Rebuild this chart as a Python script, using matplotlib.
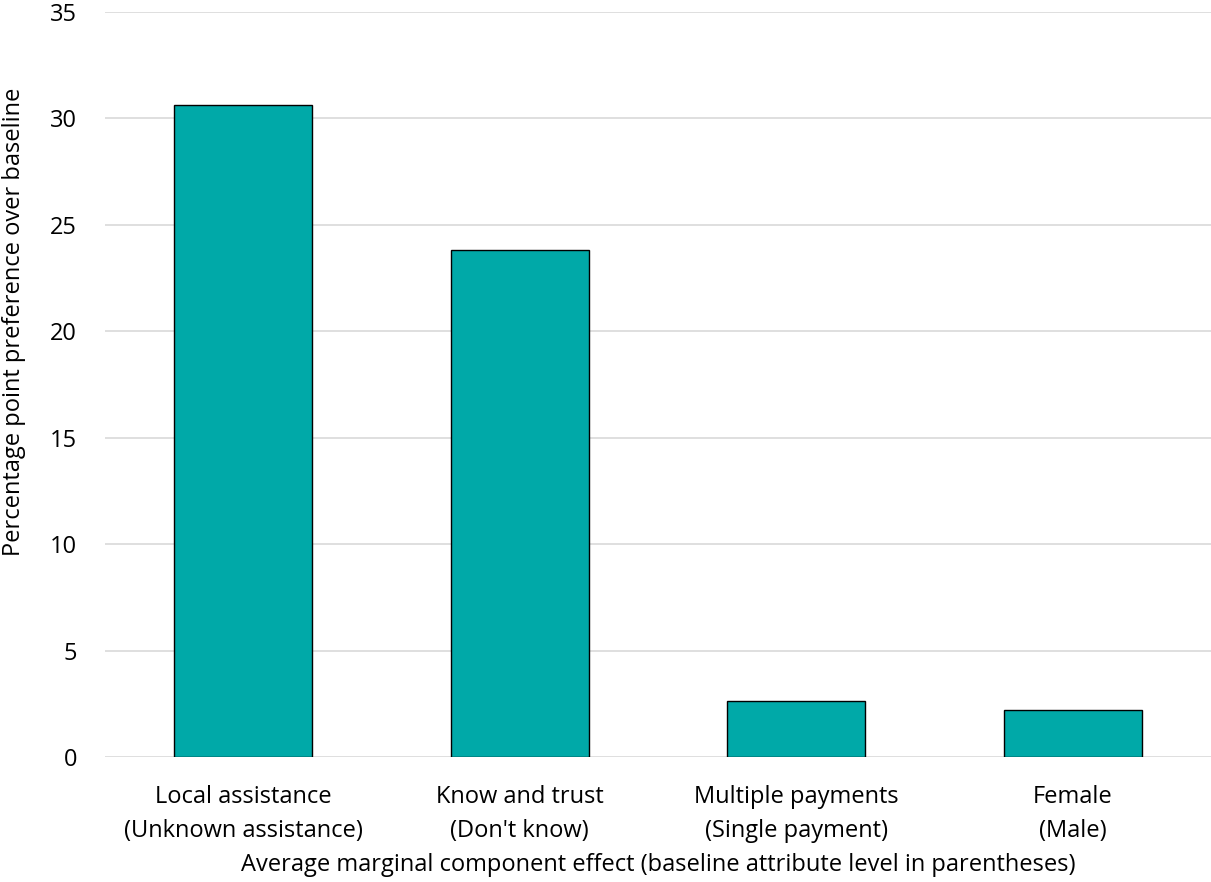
import matplotlib.pyplot as plt
import numpy as np

plt.rcParams['font.family'] = ['Open Sans', 'DejaVu Sans']

categories = ['Local assistance\n(Unknown assistance)', "Know and trust\n(Don't know)",
              'Multiple payments\n(Single payment)', 'Female\n(Male)']
values = [30.65, 23.8, 2.65, 2.21]
yticks = [0, 5, 10, 15, 20, 25, 30, 35]

fig = plt.figure(figsize=(12.11, 8.82), dpi=100)
ax = fig.add_axes([105/1211, 1 - 757/882, 1106/1211, 745/882])

x = np.arange(len(categories))
ax.bar(x, values, width=0.5, color='#00A9A8', edgecolor='black', linewidth=1.0, zorder=3)

ax.set_xlim(-0.5, len(categories) - 0.5)
ax.set_ylim(0, 35)
ax.set_yticks(yticks)
ax.set_xticks(x)
ax.set_xticklabels(categories, fontsize=17, linespacing=1.57)
ax.tick_params(axis='both', length=0, labelsize=17)
ax.tick_params(axis='x', pad=20)
ax.tick_params(axis='y', pad=20)
ax.yaxis.grid(True, color='#d9d9d9', linewidth=1.2, zorder=0)
for s in ax.spines.values():
    s.set_visible(False)

ax.set_ylabel('Percentage point preference over baseline', fontsize=17)
ax.yaxis.set_label_coords(-0.071, 0.584)
ax.set_xlabel('Average marginal component effect (baseline attribute level in parentheses)',
              fontsize=17, labelpad=7)

fig.savefig('out.png', dpi=100)
